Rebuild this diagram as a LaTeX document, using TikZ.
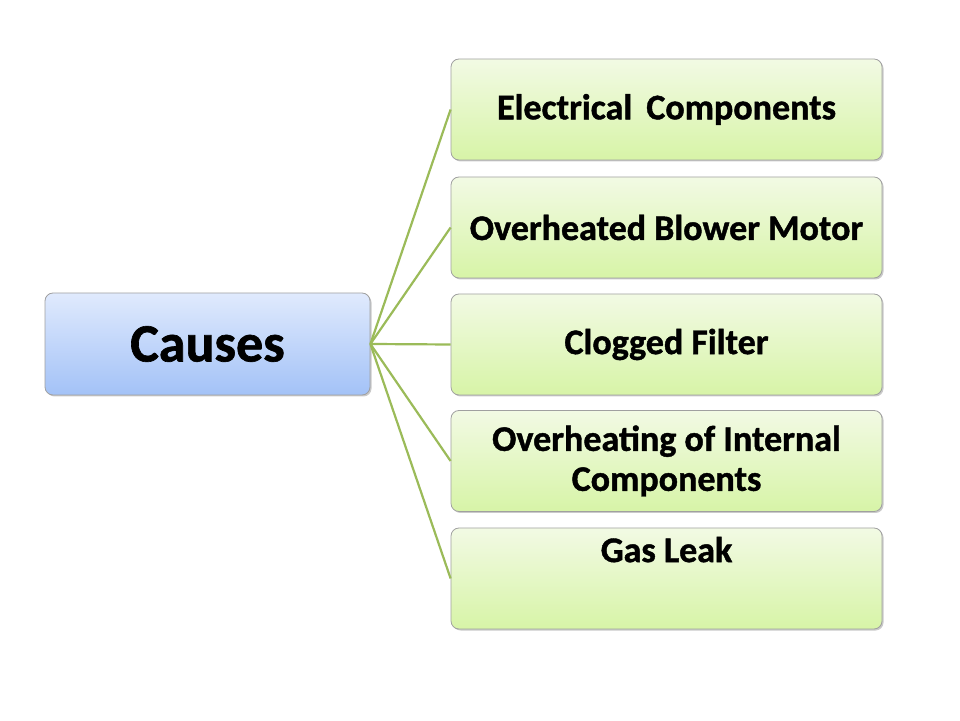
\documentclass[tikz,border=0pt]{standalone}
\usepackage{fontspec}
\setmainfont{Carlito}[BoldFeatures={FakeBold=1.2}]
\usetikzlibrary{shadows}
\definecolor{bluetop}{HTML}{E0EAFD}
\definecolor{bluebot}{HTML}{A3C2F7}
\definecolor{greentop}{HTML}{F2FAE4}
\definecolor{greenbot}{HTML}{D7F4A7}
\definecolor{edgegray}{HTML}{A0A0A0}
\definecolor{linkgreen}{HTML}{9BBB59}
\tikzset{
  basebox/.style={draw=edgegray, line width=0.8pt, rounded corners=8pt,
    drop shadow={shadow xshift=1.5pt, shadow yshift=-1.5pt, opacity=0.35, fill=black!60},
    align=center, inner sep=0pt},
  rootbox/.style={basebox, top color=bluetop, bottom color=bluebot,
    minimum width=325pt, minimum height=102pt,
    font=\fontsize{54}{60}\selectfont\bfseries},
  leafbox/.style={basebox, top color=greentop, bottom color=greenbot,
    minimum width=431pt, minimum height=101pt,
    font=\fontsize{36}{40}\selectfont\bfseries},
  leaftext/.style={font=\fontsize{36}{40}\selectfont\bfseries, inner sep=0pt, align=center},
  link/.style={draw=linkgreen, line width=2.2pt}
}
\begin{document}
\begin{tikzpicture}[x=1pt,y=1pt]
\useasboundingbox (0,0) rectangle (960,720);
\node[rootbox] (root) at (207.5,376) {Causes};
\node[leafbox] (b1) at (666.5,610.5) {Electrical\, Components};
\node[leafbox] (b2) at (666.5,492.5) {Overheated Blower Motor};
\node[leafbox] (b3) at (666.5,375.5) {Clogged Filter};
\node[leafbox] (b4) at (666.5,259) {Overheating of Internal\\Components};
\node[leafbox] (b5) at (666.5,141.5) {};
\node[leaftext, anchor=north] (gas) at ([yshift=-9pt]b5.north) {Gas Leak};
\foreach \b in {b1,b2,b3,b4,b5}{
  \draw[link] (root.east) -- (\b.west);
}
\end{tikzpicture}
\end{document}
